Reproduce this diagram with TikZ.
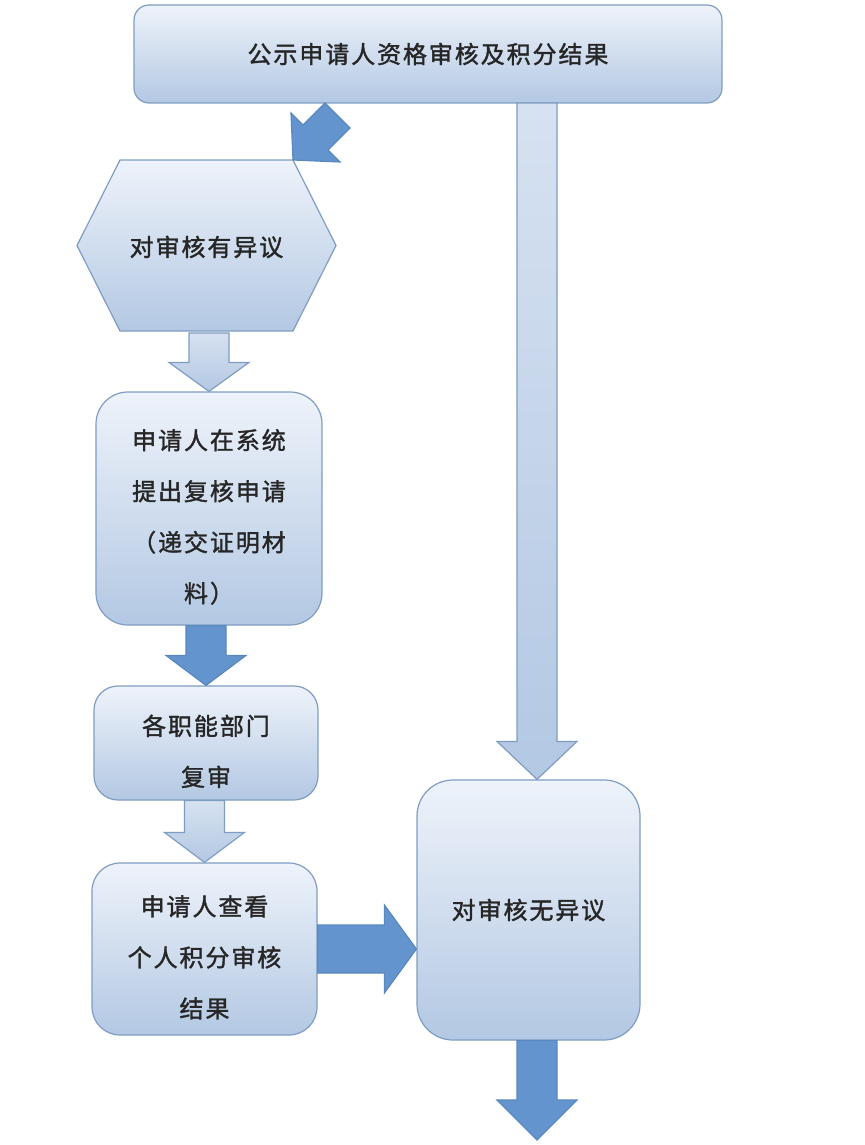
\documentclass[tikz,border=0pt]{standalone}
\usepackage{fontspec}
\setmainfont{Noto Sans CJK SC}[LetterSpace=8,FakeBold=1.5]
\usetikzlibrary{calc}
\definecolor{boxtop}{HTML}{EEF3FA}
\definecolor{boxbot}{HTML}{B3C8E3}
\definecolor{boxline}{HTML}{7F9DC2}
\definecolor{arrowblue}{HTML}{6394CE}
\definecolor{arrowline}{HTML}{5A88C0}
\tikzset{
  boxtext/.style={align=center, inner sep=0pt, text=black!85, font=\fontsize{12}{25.5}\selectfont},
  stepbox/.style={rectangle, rounded corners=#1, draw=boxline, line width=0.6pt, top color=boxtop, bottom color=boxbot, boxtext},
  stepbox/.default=14pt,
  lightarrow/.style={draw=boxline, line width=0.6pt, top color=boxtop!60!boxbot, bottom color=boxbot},
  darkarrow/.style={draw=arrowline, line width=0.6pt, fill=arrowblue},
}
% taller first line, pushes the lines down a little
\newcommand{\toppad}{\rule{0pt}{18.5pt}}
% block arrow pointing down: style, from, to, head length
\newcommand{\flowdown}[4]{%
  \path[#1] let \p1=(#2), \p2=(#3) in
    (\x2-10pt,\y1) -- (\x2+10pt,\y1) -- (\x2+10pt,\y2+#4) -- (\x2+20pt,\y2+#4)
    -- (\x2,\y2) -- (\x2-20pt,\y2+#4) -- (\x2-10pt,\y2+#4) -- cycle;}
\begin{document}
\begin{tikzpicture}[x=0.5pt,y=-0.5pt]
  \fill[white] (0,0) rectangle (864,1145);
  \node[stepbox=7.5pt, minimum width=294pt, minimum height=49pt] (notice) at (428,54) {公示申请人资格审核及积分结果};
  \path[draw=boxline, line width=0.6pt, top color=boxtop, bottom color=boxbot] (120,160) -- (293,160) -- (336,245.5) -- (293,331) -- (120,331) -- (77,245.5) -- cycle;
  \node[boxtext, minimum width=86.5pt, minimum height=85.5pt] (objection) at (206.5,247) {对审核有异议};
  \node[stepbox=16pt, minimum width=113pt, minimum height=116.5pt] (recheck) at (209,508.5) {\toppad 申请人在系统\\提出复核申请\\（递交证明材\\料）};
  \node[stepbox=12pt, minimum width=112pt, minimum height=57pt] (review) at (206,743) {\toppad 各职能部门\\复审};
  \node[stepbox=14pt, minimum width=112.5pt, minimum height=86pt] (result) at (204.5,949) {\toppad 申请人查看\\个人积分审核\\结果};
  \node[stepbox=18pt, minimum width=111.5pt, minimum height=130pt] (agree) at (528.5,910) {对审核无异议};
  \coordinate (split) at (537,103);
  \coordinate (next) at (537,1140);

  \path[darkarrow, shift={(293,160)}] (0,0) -- (-2,-47) -- (10,-35) -- (32,-57) -- (57,-32) -- (35,-10) -- (47,2) -- cycle;
  \flowdown{lightarrow}{objection.south}{recheck.north}{14.5pt}
  \flowdown{darkarrow}{recheck.south}{review.north}{15pt}
  \flowdown{lightarrow}{review.south}{result.north}{15pt}
  \flowdown{lightarrow}{split}{agree.north -| split}{19pt}
  \flowdown{darkarrow}{agree.south -| next}{next}{20pt}
  \path[darkarrow] let \p1=(result.east), \p2=(agree.west |- result.east) in
    (\x1,\y1-12pt) -- (\x2-16pt,\y1-12pt) -- (\x2-16pt,\y1-22pt) -- (\x2,\y1)
    -- (\x2-16pt,\y1+22pt) -- (\x2-16pt,\y1+12pt) -- (\x1,\y1+12pt) -- cycle;
\end{tikzpicture}
\end{document}
